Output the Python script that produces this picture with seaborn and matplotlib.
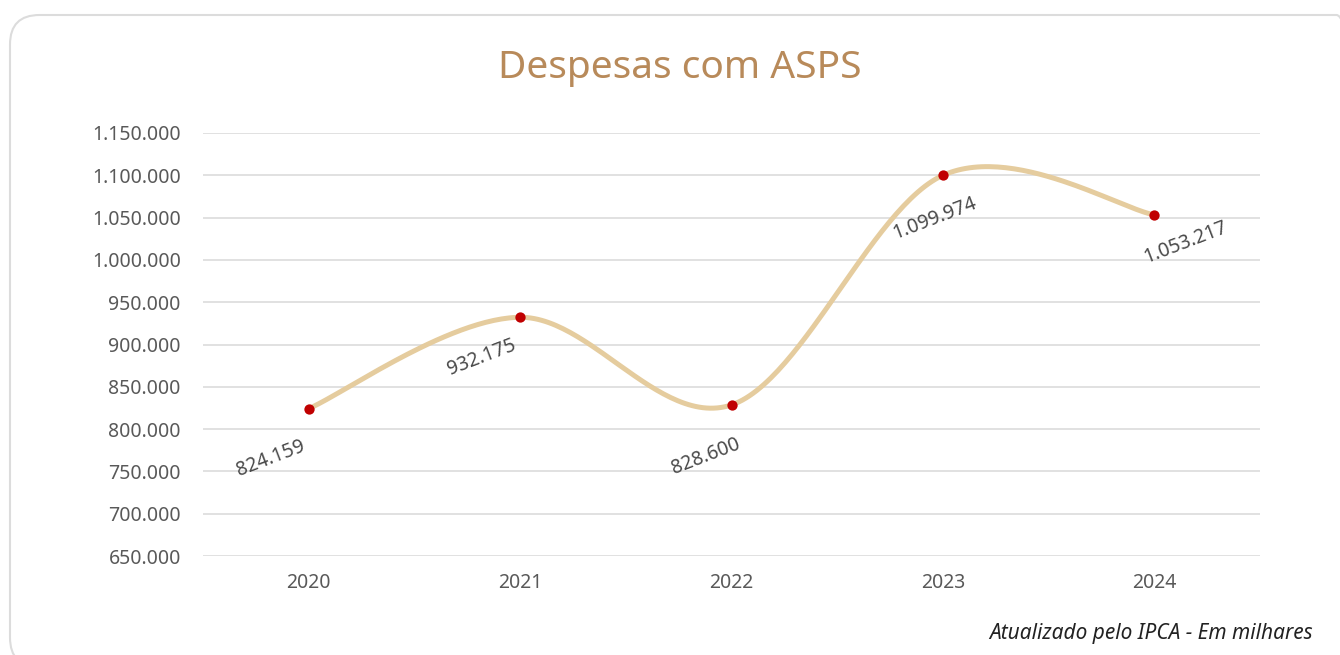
import numpy as np
import pandas as pd
import matplotlib
matplotlib.use("Agg")
import matplotlib.pyplot as plt
import seaborn as sns
from matplotlib.patches import FancyBboxPatch
from matplotlib.ticker import FuncFormatter

years = ["2020", "2021", "2022", "2023", "2024"]
values = [824159, 932175, 828600, 1099974, 1053217]
value_labels = ["824.159", "932.175", "828.600", "1.099.974", "1.053.217"]
title = "Despesas com ASPS"
footnote = "Atualizado pelo IPCA - Em milhares"

sns.set_theme(style="white")
plt.rcParams['font.family'] = ['Noto Sans', 'DejaVu Sans']

W, H = 1340, 655
fig = plt.figure(figsize=(W / 100, H / 100), dpi=100)
fig.patch.set_facecolor("white")

# card border (extends slightly past the right and bottom edges)
card = FancyBboxPatch((10 / W, -12 / H), 1356 / W, (H - 15 + 12) / H,
                      boxstyle="round,pad=0,rounding_size=0.022",
                      transform=fig.transFigure, facecolor="none",
                      edgecolor="#DCDCDC", linewidth=1.5, mutation_aspect=W / H,
                      zorder=-5)
fig.patches.append(card)

ax = fig.add_axes([203 / W, 1 - 556 / H, (1260 - 203) / W, (556 - 133) / H])
ax.set_facecolor("none")

df = pd.DataFrame({"year": years, "value": values})
df["pos"] = np.arange(len(years))

ax.set_xlim(-0.5, len(years) - 0.5)
ax.set_ylim(650000, 1150000)

# smooth (Excel-like) curve through the points, built in display-proportional space
xs = df["pos"].to_numpy(dtype=float)
ys = df["value"].to_numpy(dtype=float)
sx = (1260 - 203) / 5.0
sy = (556 - 133) / 500000.0
px = xs * sx
py = ys * sy
curve_x, curve_y = [], []
n = len(px)
t = np.linspace(0, 1, 60)
for i in range(n - 1):
    p0 = np.array([px[max(i - 1, 0)], py[max(i - 1, 0)]])
    p1 = np.array([px[i], py[i]])
    p2 = np.array([px[i + 1], py[i + 1]])
    p3 = np.array([px[min(i + 2, n - 1)], py[min(i + 2, n - 1)]])
    c1 = p1 + (p2 - p0) / 6.0
    c2 = p2 - (p3 - p1) / 6.0
    b = ((1 - t) ** 3)[:, None] * p1 + (3 * (1 - t) ** 2 * t)[:, None] * c1 \
        + (3 * (1 - t) * t ** 2)[:, None] * c2 + (t ** 3)[:, None] * p2
    curve_x.extend(b[:, 0] / sx)
    curve_y.extend(b[:, 1] / sy)
curve = pd.DataFrame({"x": curve_x, "y": curve_y})

ax.yaxis.grid(True, color="#D9D9D9", linewidth=1.1)
ax.set_axisbelow(True)
sns.lineplot(data=curve, x="x", y="y", ax=ax, color="#E5CC9E", linewidth=3.6,
             sort=False, estimator=None)
sns.scatterplot(data=df, x="pos", y="value", ax=ax, color="#C00000", s=55,
                edgecolor="#C00000", linewidth=0, zorder=5)

# data labels (rotated)
offsets = [(-38, -50), (-38, -40), (-26, -52), (-8, -43), (31, -28)]
for i, (lab, (dx, dy)) in enumerate(zip(value_labels, offsets)):
    ax.annotate(lab, (df["pos"][i], df["value"][i]), xytext=(dx * 0.72, dy * 0.72),
                textcoords="offset points", ha="center", va="center",
                rotation=21, fontsize=14, color="#4A4A4A")

ax.set_xticks(df["pos"])
ax.set_xticklabels(years)
ax.set_yticks(np.arange(650000, 1150001, 50000))
ax.yaxis.set_major_formatter(FuncFormatter(lambda v, p: f"{int(v):,}".replace(",", ".")))
ax.tick_params(axis="both", labelsize=14, colors="#595959", length=0)
ax.tick_params(axis="y", pad=16)
ax.tick_params(axis="x", pad=12)
for s in ax.spines.values():
    s.set_visible(False)
ax.set_xlabel("")
ax.set_ylabel("")

fig.text(680 / W, 1 - 68 / H, title, ha="center", va="center", fontsize=28,
         color="#B88A5A")
fig.text(1313 / W, 1 - 634 / H, footnote, ha="right", va="center", fontsize=15,
         style="italic", color="#222222")

fig.savefig("out.png", dpi=100, facecolor="white")
